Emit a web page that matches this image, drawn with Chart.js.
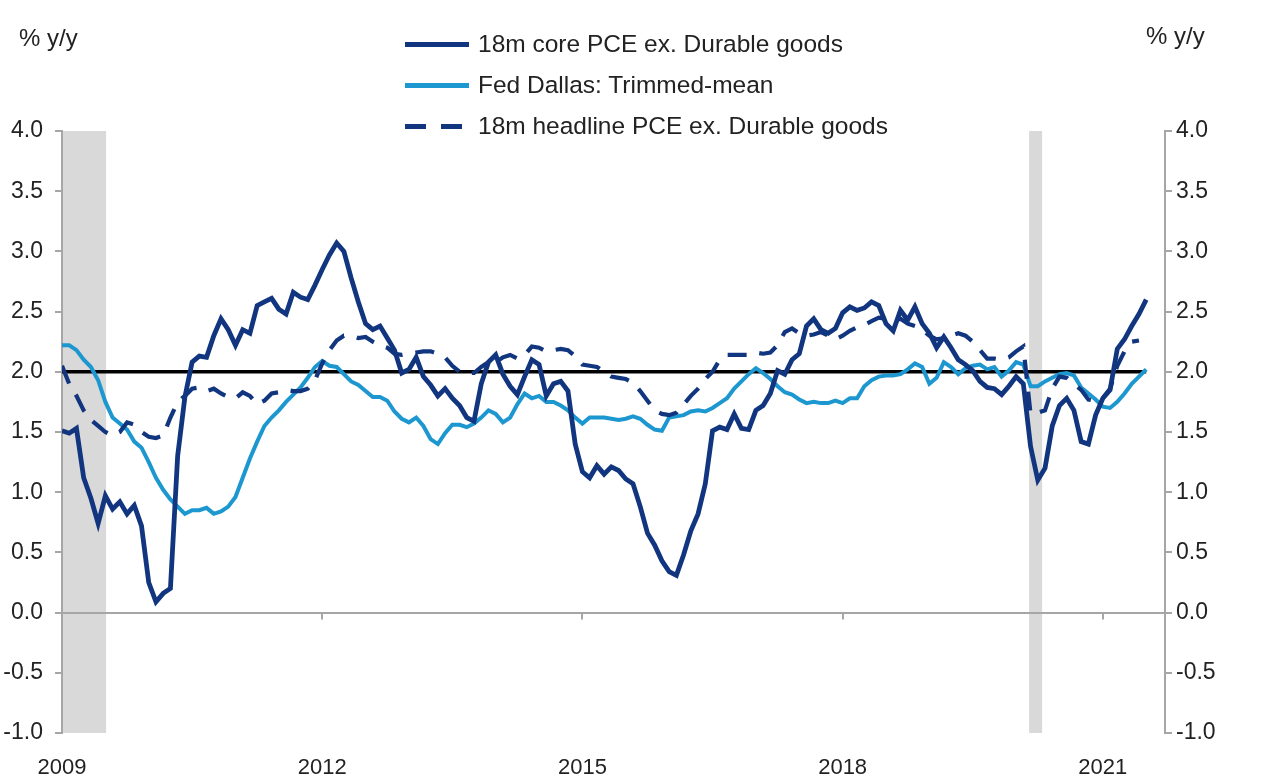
<!DOCTYPE html>
<html>
<head>
<meta charset="utf-8">
<script src="https://cdn.jsdelivr.net/npm/chart.js@4.4.1/dist/chart.umd.min.js"></script>
<style>
  body { margin: 0; background: #fff; font-family: "Liberation Sans", Arial, sans-serif; }
  #wrap { position: relative; width: 1280px; height: 783px; }
  #chart { position: absolute; left: 0; top: 0; }
  .unit { position: absolute; font-size: 24px; color: #222; }
  #legend { position: absolute; left: 405px; top: 0; }
  .row { position: absolute; left: 0; height: 30px; display: flex; align-items: center; white-space: nowrap; font-size: 24.5px; color: #222; }
  .swatch { width: 64px; height: 5px; margin-right: 9px; }
</style>
</head>
<body>
<div id="wrap">
  <canvas id="chart" width="1280" height="783"></canvas>
  <div class="unit" style="left:19px; top:24px;">% y/y</div>
  <div class="unit" style="left:1146px; top:22px;">% y/y</div>
  <div id="legend"></div>
</div>
<script>
// Datos mensuales desde 2009-01 (indice 0)
const startYear = 2009;
const tickYears = [2009, 2012, 2015, 2018, 2021];
const yTicks = [4.0, 3.5, 3.0, 2.5, 2.0, 1.5, 1.0, 0.5, 0.0, -0.5, -1.0];
const target = 2.0;

// periodos de recesion (indice de mes inicio, fin)
const recessions = [[0, 6.1], [133.8, 135.6]];

const seriesNames = [
  '18m core PCE ex. Durable goods',
  'Fed Dallas: Trimmed-mean',
  '18m headline PCE ex. Durable goods'
];

const coreValues = [
  1.51, 1.49, 1.53, 1.12, 0.95, 0.74, 0.97, 0.86, 0.92, 0.82, 0.89, 0.72,
  0.25, 0.09, 0.16, 0.20, 1.30, 1.79, 2.08, 2.13, 2.12, 2.30, 2.44, 2.35,
  2.22, 2.35, 2.32, 2.55, 2.58, 2.61, 2.52, 2.48, 2.66, 2.62, 2.60, 2.72,
  2.85, 2.97, 3.07, 3.00, 2.78, 2.58, 2.40, 2.35, 2.38, 2.28, 2.18, 1.99,
  2.02, 2.12, 1.96, 1.89, 1.80, 1.86, 1.78, 1.72, 1.62, 1.59, 1.90, 2.08,
  2.14, 1.98, 1.88, 1.81, 1.96, 2.10, 2.06, 1.80, 1.90, 1.92, 1.84, 1.40,
  1.17, 1.12, 1.22, 1.15, 1.21, 1.18, 1.11, 1.07, 0.88, 0.66, 0.56, 0.43,
  0.34, 0.31, 0.48, 0.68, 0.82, 1.07, 1.51, 1.54, 1.52, 1.65, 1.53, 1.52,
  1.68, 1.72, 1.82, 2.01, 1.98, 2.10, 2.15, 2.38, 2.44, 2.35, 2.32, 2.36,
  2.49, 2.54, 2.51, 2.53, 2.58, 2.55, 2.40, 2.34, 2.51, 2.43, 2.54, 2.40,
  2.32, 2.20, 2.29, 2.20, 2.10, 2.06, 2.01, 1.92, 1.87, 1.86, 1.81, 1.88,
  1.96, 1.90, 1.38, 1.10, 1.20, 1.55, 1.72, 1.78, 1.68, 1.42, 1.40, 1.64,
  1.78, 1.85, 2.19, 2.27, 2.38, 2.48, 2.60
];

const trimmedValues = [
  2.22, 2.22, 2.18, 2.10, 2.04, 1.93, 1.75, 1.62, 1.57, 1.52, 1.42, 1.37,
  1.25, 1.12, 1.02, 0.94, 0.88, 0.82, 0.85, 0.85, 0.87, 0.82, 0.84, 0.88,
  0.96, 1.12, 1.28, 1.42, 1.55, 1.62, 1.68, 1.75, 1.81, 1.87, 1.95, 2.04,
  2.09, 2.05, 2.04, 1.98, 1.92, 1.89, 1.84, 1.79, 1.79, 1.76, 1.67, 1.61,
  1.58, 1.62, 1.55, 1.44, 1.40, 1.49, 1.56, 1.56, 1.54, 1.57, 1.62, 1.68,
  1.65, 1.58, 1.62, 1.73, 1.82, 1.78, 1.80, 1.75, 1.75, 1.72, 1.68, 1.62,
  1.57, 1.62, 1.62, 1.62, 1.61, 1.60, 1.61, 1.63, 1.61, 1.56, 1.52, 1.51,
  1.62, 1.63, 1.64, 1.67, 1.68, 1.67, 1.70, 1.74, 1.78, 1.86, 1.92, 1.98,
  2.03, 1.99, 1.94, 1.88, 1.83, 1.81, 1.77, 1.74, 1.75, 1.74, 1.74, 1.76,
  1.74, 1.78, 1.78, 1.88, 1.93, 1.96, 1.97, 1.97, 1.98, 2.02, 2.07, 2.04,
  1.90, 1.95, 2.08, 2.04, 1.98, 2.03, 2.05, 2.06, 2.02, 2.04, 1.96, 2.01,
  2.08, 2.06, 1.88, 1.88, 1.92, 1.95, 1.98, 1.99, 1.97, 1.87, 1.82, 1.77,
  1.71, 1.70, 1.75, 1.82, 1.90, 1.96, 2.02
];

const headlineValues = [
  2.05, 1.90, 1.80, 1.68, 1.60, 1.55, 1.50, 1.47, 1.50, 1.58, 1.56, 1.50,
  1.46, 1.45, 1.47, 1.62, 1.75, 1.80, 1.86, 1.87, 1.84, 1.86, 1.82, 1.79,
  1.78, 1.83, 1.80, 1.73, 1.76, 1.82, 1.83, 1.85, 1.84, 1.84, 1.86, 1.93,
  2.07, 2.18, 2.26, 2.30, 2.30, 2.28, 2.29, 2.25, 2.22, 2.20, 2.15, 2.14,
  2.15, 2.16, 2.17, 2.17, 2.15, 2.12, 2.05, 2.00, 1.99, 1.99, 2.04, 2.08,
  2.08, 2.12, 2.14, 2.11, 2.14, 2.21, 2.20, 2.17, 2.18, 2.19, 2.18, 2.13,
  2.06, 2.05, 2.04, 2.00, 1.96, 1.95, 1.94, 1.91, 1.84, 1.76, 1.68, 1.65,
  1.64, 1.66, 1.73, 1.80, 1.86, 1.94, 2.00, 2.10, 2.14, 2.14, 2.14, 2.14,
  2.16, 2.15, 2.16, 2.22, 2.33, 2.36, 2.32, 2.30, 2.31, 2.33, 2.30, 2.27,
  2.30, 2.34, 2.37, 2.39, 2.42, 2.45, 2.44, 2.43, 2.44, 2.40, 2.38, 2.35,
  2.30, 2.27, 2.28, 2.30, 2.32, 2.30, 2.25, 2.18, 2.11, 2.11, 2.10, 2.12,
  2.17, 2.21, 1.65, 1.66, 1.68, 1.86, 1.96, 1.95, 1.90, 1.85, 1.77, 1.76,
  1.78, 1.86, 2.05, 2.17, 2.25, 2.26
];

const months = coreValues.map((_, i) => {
  const y = startYear + Math.floor(i / 12);
  return `${y}-${String(i % 12 + 1).padStart(2, '0')}`;
});

const DARK = '#11367f';
const LIGHT = '#1d97cf';
const AXIS = '#a6a6a6';
const TEXT = '#222';

const toPoints = arr => arr.map((v, i) => ({ x: i, y: v }));

// sombreado de recesiones y marcas del eje x sobre la linea del cero
const bandsPlugin = {
  id: 'bands',
  beforeDraw(chart) {
    const { ctx, chartArea, scales: { x } } = chart;
    ctx.save();
    ctx.fillStyle = '#d9d9d9';
    recessions.forEach(([a, b]) => {
      const x0 = x.getPixelForValue(a);
      const x1 = x.getPixelForValue(b);
      ctx.fillRect(x0, chartArea.top, x1 - x0, chartArea.bottom - chartArea.top);
    });
    ctx.restore();
  },
  beforeDatasetsDraw(chart) {
    const { ctx, scales: { x, y } } = chart;
    const y0 = y.getPixelForValue(0);
    ctx.save();
    ctx.strokeStyle = AXIS;
    ctx.lineWidth = 2;
    x.ticks.forEach(t => {
      const px = Math.round(x.getPixelForValue(t.value));
      ctx.beginPath();
      ctx.moveTo(px, y0);
      ctx.lineTo(px, y0 + 7);
      ctx.stroke();
    });
    ctx.restore();
  }
};

const yTickOpts = (pad) => ({
  min: -1, max: 4,
  afterBuildTicks: s => { s.ticks = yTicks.map(v => ({ value: v })); },
  ticks: { color: TEXT, font: { size: 23, family: 'Liberation Sans' }, padding: pad, callback: v => v.toFixed(1) },
  border: { color: AXIS, width: 2 }
});

const ctx = document.getElementById('chart').getContext('2d');
const chart = new Chart(ctx, {
  type: 'line',
  data: {
    datasets: [
      {
        label: seriesNames[0], data: toPoints(coreValues),
        borderColor: DARK, borderWidth: 4.8, order: 1
      },
      {
        label: seriesNames[2], data: toPoints(headlineValues),
        borderColor: DARK, borderWidth: 4.2, borderDash: [19, 13], order: 2
      },
      {
        label: seriesNames[1], data: toPoints(trimmedValues),
        borderColor: LIGHT, borderWidth: 4, order: 3
      },
      {
        label: 'target', data: toPoints(coreValues.map(() => target)),
        borderColor: '#000', borderWidth: 3.5, order: 4
      }
    ]
  },
  options: {
    responsive: false,
    animation: false,
    layout: { padding: { top: 131, left: 0, right: 0, bottom: 0 } },
    elements: { point: { radius: 0 }, line: { tension: 0, borderCapStyle: 'butt' } },
    plugins: { legend: { display: false }, tooltip: { enabled: false } },
    scales: {
      x: {
        type: 'linear', min: 0, max: 152.6,
        afterBuildTicks: s => { s.ticks = tickYears.map(yr => ({ value: (yr - startYear) * 12 })); },
        afterFit: s => { s.height = 50; },
        grid: { display: false },
        border: { display: false },
        ticks: {
          color: TEXT, padding: 14, maxRotation: 0,
          font: { size: 22, family: 'Liberation Sans' },
          callback: v => String(startYear + v / 12)
        }
      },
      y: Object.assign(yTickOpts(12), {
        position: 'left',
        afterFit: s => { s.width = 62; },
        grid: {
          drawOnChartArea: true, tickLength: 7, tickColor: AXIS, lineWidth: 2,
          color: c => (c.tick && c.tick.value === 0) ? AXIS : 'rgba(0,0,0,0)'
        }
      }),
      y2: Object.assign(yTickOpts(4), {
        position: 'right',
        afterFit: s => { s.width = 115; },
        grid: { drawOnChartArea: false, tickLength: 7, color: AXIS, lineWidth: 2 }
      })
    }
  },
  plugins: [bandsPlugin]
});

// leyenda en HTML, una fila por serie
const legendRows = [
  { name: seriesNames[0], bg: DARK },
  { name: seriesNames[1], bg: LIGHT },
  { name: seriesNames[2], bg: `repeating-linear-gradient(to right, ${DARK} 0 21px, transparent 21px 36px)` }
];
const legendTops = [29, 70, 111];
const legend = document.getElementById('legend');
legendRows.forEach((r, i) => {
  const row = document.createElement('div');
  row.className = 'row';
  row.style.top = legendTops[i] + 'px';
  row.innerHTML = `<span class="swatch" style="background:${r.bg}"></span><span>${r.name}</span>`;
  legend.appendChild(row);
});
</script>
</body>
</html>
